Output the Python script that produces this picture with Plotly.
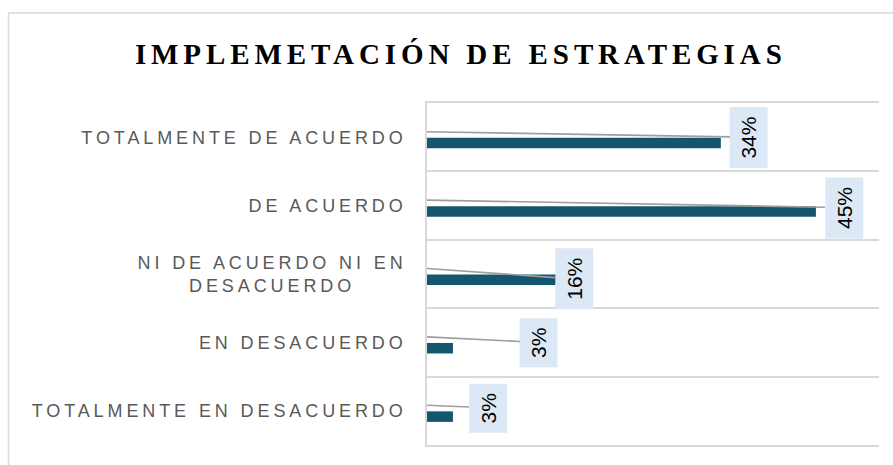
import plotly.graph_objects as go

# ---- data ----
categories = [
    "TOTALMENTE DE ACUERDO",
    "DE ACUERDO",
    "NI DE ACUERDO NI EN<br>DESACUERDO",
    "EN DESACUERDO",
    "TOTALMENTE EN DESACUERDO",
]
values = [0.34, 0.45, 0.16, 0.03, 0.03]
labels = ["34%", "45%", "16%", "3%", "3%"]
title_text = "IMPLEMETACIÓN DE ESTRATEGIAS"

# ---- style / layout parameters ----
W, H = 893, 465
ML, MR, MT, MB = 427, 14, 103, 20
PW = W - ML - MR
PH = H - MT - MB
XMAX = 0.523
n = len(categories)
band_px = PH / n
label_dx_px = [28, 28, 9, 86, 35]
label_dy_px = [0, 2, 5, 0, -3]
BAR = "#15566f"
BOX = "#dce8f5"
GRID = "#d9d9d9"
LEAD = "#9e9e9e"

pos = list(range(n))

fig = go.Figure()
fig.add_trace(go.Bar(
    x=values, y=pos, orientation="h",
    width=0.154, offset=0.008,
    marker=dict(color=BAR, line=dict(width=0)),
    hoverinfo="skip", showlegend=False,
))

annotations = []
for i, (v, lab) in enumerate(zip(values, labels)):
    ax = v + label_dx_px[i] * XMAX / PW
    ay = i + label_dy_px[i] / band_px
    annotations.append(dict(
        x=0, y=i - 5.5 / band_px, xref="x", yref="y",
        ax=ax, ay=ay, axref="x", ayref="y",
        text=lab, showarrow=True, arrowhead=0, arrowwidth=1.6,
        arrowcolor=LEAD, standoff=0, startstandoff=0,
        textangle=-90, bgcolor=BOX, borderpad=0, borderwidth=0,
        width=61 if len(lab) > 2 else 49, height=38,
        font=dict(family="Liberation Sans", size=21, color="#000000"),
    ))

fig.update_layout(
    width=W, height=H,
    margin=dict(l=ML, r=MR, t=MT, b=MB, pad=0),
    paper_bgcolor="white", plot_bgcolor="white",
    title=dict(
        text=title_text, xref="container", yref="container",
        x=0.516, y=1 - 53.5 / H, xanchor="center", yanchor="middle",
        font=dict(family="Liberation Serif", size=29, color="#000000", weight="bold"),
    ),
    xaxis=dict(
        range=[0, XMAX], showgrid=False, zeroline=False, showticklabels=False,
        showline=True, mirror=True, linecolor=GRID, linewidth=1.5, ticks="",
    ),
    yaxis=dict(
        range=[n - 0.5, -0.5], tickvals=pos, ticktext=categories,
        showgrid=False, zeroline=False, ticks="",
        showline=True, linecolor=GRID, linewidth=1.5,
        ticklabelstandoff=15,
        tickfont=dict(family="Liberation Sans", size=18, color="#595959"),
        minor=dict(tickvals=[k - 0.5 for k in range(n + 1)], showgrid=True,
                   gridcolor=GRID, gridwidth=1.5, ticks=""),
    ),
    annotations=annotations,
    shapes=[dict(
        type="rect", xref="paper", yref="paper",
        x0=(8.5 - ML) / PW, x1=1.06, y0=-0.1, y1=1 + (MT - 13) / PH,
        line=dict(color=GRID, width=1.5), fillcolor="rgba(0,0,0,0)", layer="below",
    )],
)

post = """
document.body.style.margin = '0';
document.body.style.overflow = 'hidden';
var gd = document.getElementById('{plot_id}');
gd.querySelectorAll('.ytick text').forEach(function(t){ t.style.letterSpacing='3.9px'; });
gd.querySelectorAll('.ytick text').forEach(function(t){
  var ls = t.querySelectorAll('tspan.line');
  if (ls.length > 1) {
    var w = []; ls.forEach(function(s){ w.push(s.getComputedTextLength()); });
    var m = Math.max.apply(null, w);
    ls.forEach(function(s, i){ var x = parseFloat(s.getAttribute('x')) || 0; s.setAttribute('x', x - (m - w[i]) / 2); });
  }
});
var g = gd.querySelector('.gtitle'); if (g) { g.style.letterSpacing = '4.9px'; }
"""

fig.write_html("out.html", post_script=post, config={"displayModeBar": False})
